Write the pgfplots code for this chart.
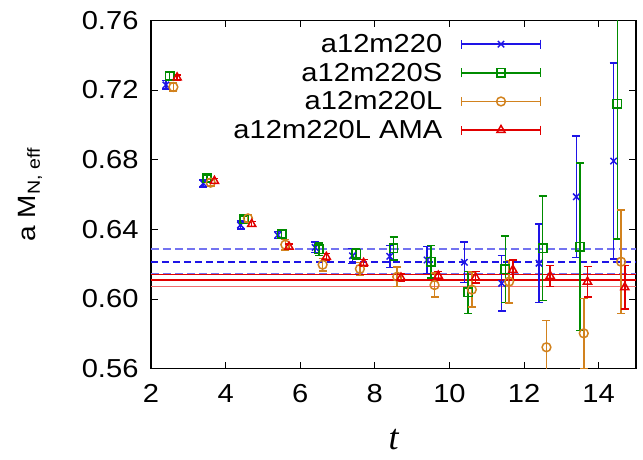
\documentclass[border=0pt]{standalone}
\usepackage{pgfplots}
\pgfplotsset{compat=1.18}
\usepackage{pgfplotstable}
\usepackage{fontspec}
\setmainfont{Liberation Sans}[FakeStretch=1.12]
\newfontfamily\serifit{Liberation Serif}
\usetikzlibrary{arrows.meta}
\definecolor{cblue}{RGB}{30,20,230}
\definecolor{cgreen}{RGB}{0,140,0}
\definecolor{corange}{RGB}{210,130,30}
\definecolor{cred}{RGB}{225,0,0}
\definecolor{lblue}{RGB}{115,115,240}
\definecolor{lred}{RGB}{240,110,110}

\pgfplotstableread{
t v e
2.4 0.7229 0.0024
3.4 0.6664 0.0020
4.4 0.6425 0.0022
5.4 0.6367 0.0020
6.4 0.6296 0.0030
7.4 0.6248 0.0043
8.4 0.6245 0.0063
9.4 0.6224 0.0078
10.4 0.6211 0.0115
11.4 0.6090 0.0160
12.4 0.6205 0.0225
13.4 0.6587 0.0348
14.4 0.6792 0.0563
}\blue
\pgfplotstableread{
t v e
2.5 0.7280 0.0020
3.5 0.6693 0.0020
4.5 0.6457 0.0020
5.5 0.6373 0.0020
6.5 0.6286 0.0035
7.5 0.6260 0.0030
8.5 0.6291 0.0066
9.5 0.6214 0.0092
10.5 0.6038 0.0121
11.5 0.6171 0.0190
12.5 0.6291 0.0299
13.5 0.6300 0.0480
14.5 0.7120 0.0775
}\green
\pgfplotstableread{
t v e
2.6 0.7217 0.0022
3.6 0.6668 0.0020
4.6 0.6463 0.0022
5.6 0.6312 0.0030
6.6 0.6197 0.0036
7.6 0.6173 0.0038
8.6 0.6128 0.0055
9.6 0.6080 0.0069
10.6 0.6054 0.0101
11.6 0.6100 0.0122
12.6 0.5723 0.0153
13.6 0.5803 0.0201
14.6 0.6214 0.0296
}\orange
\pgfplotstableread{
t v e
2.7 0.7271 0.0015
3.7 0.6677 0.0015
4.7 0.6430 0.0015
5.7 0.6300 0.0015
6.7 0.6241 0.0020
7.7 0.6206 0.0020
8.7 0.6122 0.0022
9.7 0.6133 0.0025
10.7 0.6124 0.0033
11.7 0.6167 0.0057
12.7 0.6132 0.0059
13.7 0.6099 0.0088
14.7 0.6067 0.0124
}\red

\begin{document}
\begin{tikzpicture}
\useasboundingbox (0,0) rectangle (643pt,460pt);
\begin{axis}[
  at={(151pt,91.3pt)}, anchor=south west,
  scale only axis, width=485pt, height=348.4pt,
  xmin=2, xmax=15, ymin=0.56, ymax=0.76,
  xtick={2,4,6,8,10,12,14},
  ytick={0.56,0.60,0.64,0.68,0.72,0.76},
  yticklabel style={xshift=-9pt, /pgf/number format/.cd, fixed, fixed zerofill, precision=2},
  /pgf/number format/assume math mode=true,
  tick label style={font=\fontsize{26}{30}\selectfont},
  xticklabel style={yshift=-12pt},
  major tick length=7pt,
  tick style={black, line width=0.9pt},
  axis line style={line width=1.3pt},
  xlabel={\serifit\itshape t},
  xlabel style={font=\fontsize{36}{40}\selectfont, inner sep=0pt, at={(axis description cs:0.5,-0.203)}, anchor=center},
  ylabel={a M\textsubscript{N, eff}},
  ylabel style={font=\fontsize{25}{30}\selectfont, at={(axis description cs:-0.249,0.5)}, anchor=center},
  legend cell align=right,
  legend plot pos=right,
  legend style={draw=none, fill=none, at={(0.806,0.966)}, anchor=north east,
    font=\fontsize{26}{30}\selectfont, row sep=5pt, column sep=16pt, inner sep=0pt},
  legend image code/.code={
    \draw[#1, mark=none, line width=1.4pt, {Bar[width=9pt]}-{Bar[width=9pt]}] (0pt,0pt) -- (80pt,0pt);
    \draw[#1, only marks] plot coordinates {(40pt,0pt)};
  },
  error bars/y dir=both, error bars/y explicit,
  error bars/error mark options={rotate=90, mark size=4pt, line width=1.5pt},
  error bars/error bar style={line width=1.5pt},
]
% horizontal fit lines
\addplot[forget plot, lblue, line width=1.1pt, dash pattern=on 8pt off 4pt] coordinates {(2,0.6287) (15,0.6287)};
\addplot[forget plot, lblue, line width=1.1pt, dash pattern=on 8pt off 4pt] coordinates {(2,0.6145) (15,0.6145)};
\addplot[forget plot, cblue, line width=2.2pt, dash pattern=on 7pt off 4pt] coordinates {(2,0.6214) (15,0.6214)};
\addplot[forget plot, cred, line width=1.1pt] coordinates {(2,0.6142) (15,0.6142)};
\addplot[forget plot, lred, line width=1.3pt] coordinates {(2,0.6073) (15,0.6073)};
\addplot[forget plot, cred, line width=2.2pt] coordinates {(2,0.6109) (15,0.6109)};
% data
\addplot[cblue, only marks, mark=x, mark size=4.5pt, line width=1.5pt] table[x=t, y=v, y error=e] {\blue};
\addlegendentry{a12m220}
\addplot[cgreen, only marks, mark=square, mark size=4.2pt, line width=1.5pt] table[x=t, y=v, y error=e] {\green};
\addlegendentry{a12m220S}
\addplot[corange, only marks, mark=o, mark size=4.4pt, line width=1.5pt] table[x=t, y=v, y error=e] {\orange};
\addlegendentry{a12m220L}
\addplot[cred, only marks, mark=triangle, mark size=4.7pt, line width=1.5pt] table[x=t, y=v, y error=e] {\red};
\addlegendentry{a12m220L AMA}
\end{axis}
\end{tikzpicture}
\end{document}
